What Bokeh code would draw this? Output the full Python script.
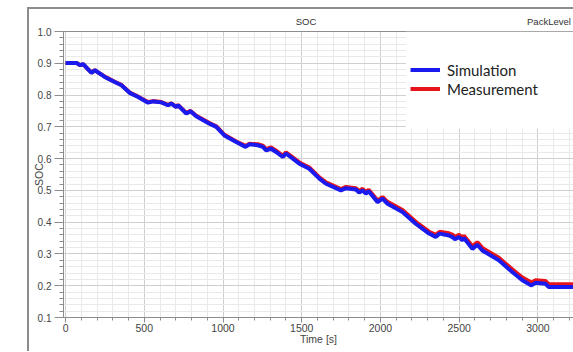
from bokeh.plotting import figure
from bokeh.layouts import row, column
from bokeh.models import (Range1d, LinearAxis, Legend, LegendItem, BoxAnnotation, Spacer,
                          SingleIntervalTicker, FixedTicker, PrintfTickFormatter)
from bokeh.embed import file_html
from bokeh.resources import INLINE

# ---- data ----
time_s = [0, 70, 91, 112, 139, 165, 186, 249, 312, 355, 407, 461, 524, 556, 608, 651, 672,
          703, 714, 767, 794, 830, 914, 957, 1009, 1084, 1143, 1168, 1221, 1253, 1274, 1305,
          1337, 1380, 1400, 1485, 1548, 1612, 1654, 1749, 1781, 1844, 1865, 1887, 1907, 1925,
          1982, 2013, 2045, 2140, 2224, 2309, 2351, 2376, 2435, 2457, 2473, 2499, 2520, 2530,
          2584, 2615, 2647, 2752, 2837, 2901, 2959, 2985, 3048, 3069, 3230]
sim_soc = [0.901, 0.901, 0.894, 0.897, 0.883, 0.870, 0.878, 0.857, 0.841, 0.831, 0.807, 0.794,
           0.776, 0.780, 0.777, 0.768, 0.773, 0.762, 0.768, 0.742, 0.749, 0.733, 0.710, 0.700,
           0.673, 0.652, 0.637, 0.645, 0.642, 0.637, 0.626, 0.631, 0.621, 0.605, 0.616, 0.584,
           0.568, 0.537, 0.521, 0.500, 0.507, 0.503, 0.493, 0.500, 0.490, 0.497, 0.463, 0.474,
           0.458, 0.432, 0.395, 0.364, 0.353, 0.364, 0.358, 0.353, 0.346, 0.353, 0.343, 0.350,
           0.316, 0.329, 0.311, 0.280, 0.243, 0.217, 0.201, 0.209, 0.206, 0.196, 0.196]
meas_soc = [0.901, 0.901, 0.894, 0.897, 0.883, 0.871, 0.878, 0.858, 0.842, 0.832, 0.808, 0.795,
            0.778, 0.781, 0.778, 0.769, 0.774, 0.763, 0.769, 0.744, 0.750, 0.735, 0.712, 0.702,
            0.675, 0.654, 0.640, 0.647, 0.645, 0.641, 0.630, 0.635, 0.625, 0.609, 0.620, 0.588,
            0.572, 0.541, 0.525, 0.504, 0.511, 0.507, 0.498, 0.505, 0.495, 0.502, 0.468, 0.479,
            0.464, 0.438, 0.401, 0.370, 0.360, 0.370, 0.365, 0.361, 0.354, 0.360, 0.351, 0.357,
            0.324, 0.337, 0.319, 0.288, 0.252, 0.226, 0.210, 0.217, 0.215, 0.205, 0.205]
series_names = ["Simulation", "Measurement"]
header_positions = [1527, 3070]
header_texts = ["SOC", "PackLevel"]
x_title = "Time [s]"
y_title = "SOC"

FONT = "Liberation Sans"
GREY = "#8c8c8c"

p = figure(width=544, height=342, x_range=Range1d(-13, 3226), y_range=Range1d(0.1, 1.0),
           output_backend="svg", toolbar_location=None, title=None,
           min_border_left=33, min_border_right=0, min_border_top=22, min_border_bottom=34)
p.outline_line_color = None
p.background_fill_color = "white"
p.border_fill_color = "white"

# axes
xax = p.xaxis[0]
xax.ticker = SingleIntervalTicker(interval=500, num_minor_ticks=5)
yax = p.yaxis[0]
yax.ticker = SingleIntervalTicker(interval=0.1, num_minor_ticks=5)
yax.formatter = PrintfTickFormatter(format="%.1f")
for ax in (xax, yax):
    ax.axis_line_color = GREY
    ax.major_tick_line_color = GREY
    ax.minor_tick_line_color = GREY
    ax.major_tick_in = 0
    ax.minor_tick_in = 0
    ax.major_label_text_font = FONT
    ax.major_label_text_color = "#444444"
    ax.axis_label_text_font = FONT
    ax.axis_label_text_font_size = "10.5px"
    ax.axis_label_text_font_style = "normal"
    ax.axis_label_text_color = "#444444"
xax.major_label_text_font_size = "10.5px"
yax.major_label_text_font_size = "10px"
xax.major_tick_out = 5
xax.minor_tick_out = 3
xax.major_label_standoff = 1
xax.axis_label = x_title
xax.axis_label_standoff = -2
yax.major_tick_out = 9
yax.minor_tick_out = 4
yax.major_label_standoff = 3
yax.axis_label = y_title
yax.axis_label_standoff = -10

top_axis = LinearAxis(ticker=FixedTicker(ticks=header_positions),
                      major_label_overrides=dict(zip(header_positions, header_texts)),
                      major_tick_line_color=None, minor_tick_line_color=None,
                      major_tick_out=0, minor_tick_out=0, major_tick_in=0, minor_tick_in=0,
                      axis_line_color=GREY, major_label_standoff=5,
                      major_label_text_font=FONT, major_label_text_font_size="9.5px",
                      major_label_text_color="#333333")
p.add_layout(top_axis, "above")

# grids
p.xgrid.ticker = xax.ticker
p.ygrid.ticker = yax.ticker
for g in (p.xgrid[0], p.ygrid[0]):
    g.grid_line_color = "#cfcfcf"
    g.minor_grid_line_color = "#e9e9e9"

# series
r_meas = p.line(time_s, meas_soc, line_color="#e8141c", line_width=4)
r_sim = p.line(time_s, sim_soc, line_color="#1a1aee", line_width=4)

# white legend area
p.add_layout(BoxAnnotation(left=2161, right=3300, bottom=0.695, top=1.0,
                           fill_color="white", fill_alpha=1.0, line_color=None))

legend = Legend(items=[LegendItem(label=series_names[0], renderers=[r_sim]),
                       LegendItem(label=series_names[1], renderers=[r_meas])],
                location=(347, 219), glyph_width=30, glyph_height=19, label_height=19,
                label_standoff=7, padding=6, spacing=0, border_line_color=None,
                background_fill_color="white", background_fill_alpha=1.0,
                label_text_font="Lato", label_text_font_size="15px", label_text_color="#222222")
p.add_layout(legend)

# outer window frame (grey lines at top and left)
top_line = Spacer(width=546, height=2, background=GREY)
left_line = Spacer(width=2, height=342, background=GREY)
layout = row(Spacer(width=27, height=351),
             column(Spacer(width=546, height=7), top_line, row(left_line, p)))

open("out.html", "w").write(file_html(layout, INLINE))
